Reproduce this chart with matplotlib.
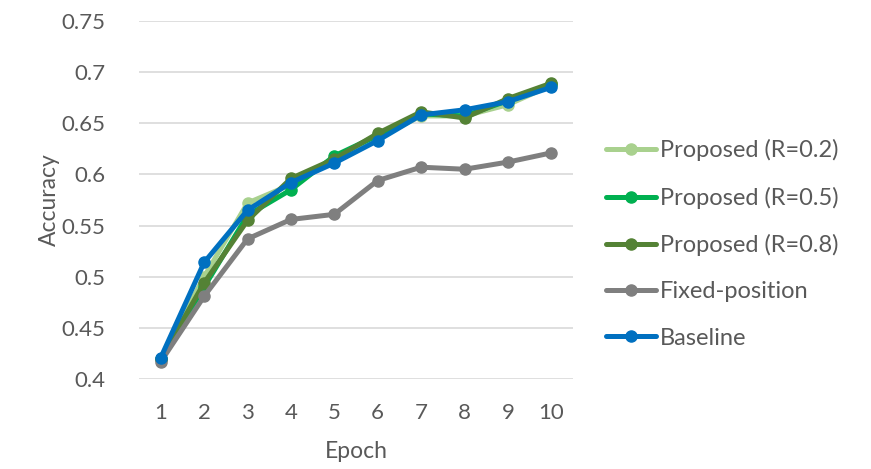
import matplotlib
matplotlib.use("Agg")
import matplotlib.pyplot as plt

epochs = [1, 2, 3, 4, 5, 6, 7, 8, 9, 10]
series_names = ["Proposed (R=0.2)", "Proposed (R=0.5)", "Proposed (R=0.8)",
                "Fixed-position", "Baseline"]
r02 = [0.420, 0.500, 0.572, 0.590, 0.615, 0.636, 0.657, 0.657, 0.668, 0.687]
r05 = [0.420, 0.490, 0.560, 0.585, 0.618, 0.638, 0.659, 0.657, 0.672, 0.688]
r08 = [0.420, 0.494, 0.555, 0.596, 0.615, 0.640, 0.661, 0.655, 0.674, 0.689]
fixed = [0.417, 0.481, 0.537, 0.556, 0.561, 0.594, 0.607, 0.605, 0.612, 0.621]
baseline = [0.421, 0.514, 0.565, 0.592, 0.611, 0.633, 0.658, 0.663, 0.671, 0.685]
colors = ["#A9D18E", "#00B050", "#548235", "#7F7F7F", "#0070C0"]
yticks = [0.4, 0.45, 0.5, 0.55, 0.6, 0.65, 0.7, 0.75]
ytick_labels = ["0.4", "0.45", "0.5", "0.55", "0.6", "0.65", "0.7", "0.75"]

plt.rcParams['font.family'] = ['Lato', 'DejaVu Sans']
text_color = "#595959"

fig = plt.figure(figsize=(8.71, 4.69), dpi=100)
ax = fig.add_axes([0.1596, 0.1913, 0.4983, 0.7646])

data = [r02, r05, r08, fixed, baseline]
for name, vals, c in zip(series_names, data, colors):
    ax.plot(epochs, vals, color=c, lw=3.6, marker='o', markersize=8,
            label=name, solid_capstyle='round', solid_joinstyle='round')

ax.set_xlim(0.5, 10.5)
ax.set_ylim(0.4, 0.75)
ax.set_yticks(yticks)
ax.set_yticklabels(ytick_labels)
ax.set_xticks(epochs)
ax.set_xticklabels([str(e) for e in epochs])
ax.grid(axis='y', color='#D9D9D9', lw=1.2)
ax.set_axisbelow(True)
for s in ax.spines.values():
    s.set_visible(False)
ax.tick_params(length=0, labelsize=16, colors=text_color)
ax.tick_params(axis='x', pad=17)
ax.tick_params(axis='y', pad=24)
ax.set_xlabel("Epoch", fontsize=16.5, color=text_color, labelpad=13)
ax.set_ylabel("Accuracy", fontsize=16.5, color=text_color, labelpad=1)

leg = ax.legend(loc='center left', bbox_to_anchor=(606 / 871, 1 - 244 / 469),
                bbox_transform=fig.transFigure, frameon=False,
                fontsize=17, handlelength=2.1, handletextpad=0.2,
                labelspacing=1.07, borderaxespad=0, borderpad=0)
for t in leg.get_texts():
    t.set_color(text_color)

fig.savefig("out.png", dpi=100)
